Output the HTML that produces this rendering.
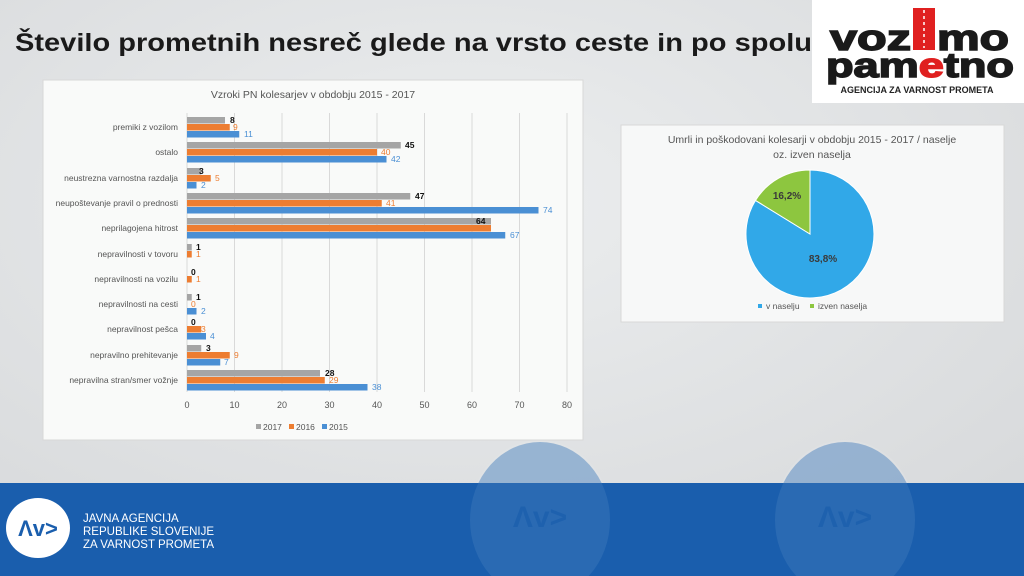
<!DOCTYPE html>
<html><head><meta charset="utf-8"><style>
html,body{margin:0;padding:0;width:1024px;height:576px;overflow:hidden;background:#e2e3e4}
svg{display:block}
text{font-family:"Liberation Sans","DejaVu Sans",sans-serif}
</style></head><body>
<svg width="1024" height="576" viewBox="0 0 1024 576" xmlns="http://www.w3.org/2000/svg">
<defs>
<radialGradient id="bg" cx="0.45" cy="0.35" r="0.8">
<stop offset="0" stop-color="#eceeef"/><stop offset="1" stop-color="#d6d8da"/></radialGradient>
</defs>
<rect width="1024" height="576" fill="url(#bg)"/>
<ellipse cx="540" cy="515" rx="70" ry="75" fill="#e6e8ea" opacity="0.3"/>
<ellipse cx="845" cy="515" rx="70" ry="75" fill="#e6e8ea" opacity="0.3"/>
<!-- footer -->
<rect x="0" y="483" width="1024" height="93" fill="#1a5ead"/>
<ellipse cx="540" cy="520" rx="70" ry="78" fill="#3f7abb" opacity="0.45"/>
<ellipse cx="845" cy="520" rx="70" ry="78" fill="#3f7abb" opacity="0.45"/>
<rect x="0" y="483" width="1024" height="0" fill="#1a5ead"/>
<text x="540" y="527" font-size="30" font-weight="bold" fill="#1a5ead" text-anchor="middle" opacity="0.7">Λv&gt;</text>
<text x="845" y="527" font-size="30" font-weight="bold" fill="#1a5ead" text-anchor="middle" opacity="0.7">Λv&gt;</text>
<ellipse cx="38" cy="528" rx="32" ry="30" fill="#ffffff"/>
<text x="38" y="536" font-size="22" font-weight="bold" fill="#1a5ead" text-anchor="middle">Λv&gt;</text>
<text x="83" y="522" font-size="11.5" fill="#fff">JAVNA AGENCIJA</text>
<text x="83" y="535" font-size="11.5" fill="#fff">REPUBLIKE SLOVENIJE</text>
<text x="83" y="548" font-size="11.5" fill="#fff">ZA VARNOST PROMETA</text>
<!-- title -->
<text x="15" y="51" font-size="25" font-weight="bold" fill="#1a1a1a" textLength="797" lengthAdjust="spacingAndGlyphs">Število prometnih nesreč glede na vrsto ceste in po spolu</text>
<!-- logo -->
<rect x="812" y="0" width="212" height="103" fill="#ffffff"/>
<rect x="913" y="8" width="22" height="42" fill="#e02020"/>
<line x1="924" y1="10" x2="924" y2="48" stroke="#fff" stroke-width="1.5" stroke-dasharray="3,3"/>
<text x="830" y="50" font-size="36" font-weight="bold" fill="#1a1a1a" textLength="81" lengthAdjust="spacingAndGlyphs" stroke="#1a1a1a" stroke-width="1.5">voz</text>
<text x="937" y="50" font-size="36" font-weight="bold" fill="#1a1a1a" textLength="72" lengthAdjust="spacingAndGlyphs" stroke="#1a1a1a" stroke-width="1.5">mo</text>
<text x="826" y="77" font-size="34" font-weight="bold" fill="#1a1a1a" textLength="188" lengthAdjust="spacingAndGlyphs" stroke="#1a1a1a" stroke-width="1.5">pam<tspan fill="#e02020" stroke="#e02020">e</tspan>tno</text>
<text x="917" y="93" font-size="9" font-weight="bold" fill="#222" text-anchor="middle">AGENCIJA ZA VARNOST PROMETA</text>
<!-- bar chart panel -->
<rect x="43" y="80" width="540" height="360" fill="#f9faf9" stroke="#d8d8d8"/>
<text x="313" y="98" font-size="10.5" fill="#555" text-anchor="middle">Vzroki PN kolesarjev v obdobju 2015 - 2017</text>
<g stroke="#d9d9d9" stroke-width="1">
<line x1="187" y1="113" x2="187" y2="392"/><line x1="234.5" y1="113" x2="234.5" y2="392"/><line x1="282" y1="113" x2="282" y2="392"/><line x1="329.5" y1="113" x2="329.5" y2="392"/><line x1="377" y1="113" x2="377" y2="392"/><line x1="424.5" y1="113" x2="424.5" y2="392"/><line x1="472" y1="113" x2="472" y2="392"/><line x1="519.5" y1="113" x2="519.5" y2="392"/><line x1="567" y1="113" x2="567" y2="392"/>
</g>
<g font-size="9" fill="#555" text-anchor="middle">
<text x="187" y="408">0</text><text x="234.5" y="408">10</text><text x="282" y="408">20</text><text x="329.5" y="408">30</text><text x="377" y="408">40</text><text x="424.5" y="408">50</text><text x="472" y="408">60</text><text x="519.5" y="408">70</text><text x="567" y="408">80</text>
</g>
<g font-size="8.5" fill="#555" text-anchor="end">
<text x="178" y="130">premiki z vozilom</text>
<text x="178" y="155">ostalo</text>
<text x="178" y="181">neustrezna varnostna razdalja</text>
<text x="178" y="206">neupoštevanje pravil o prednosti</text>
<text x="178" y="231">neprilagojena hitrost</text>
<text x="178" y="257">nepravilnosti v tovoru</text>
<text x="178" y="282">nepravilnosti na vozilu</text>
<text x="178" y="307">nepravilnosti na cesti</text>
<text x="178" y="332">nepravilnost pešca</text>
<text x="178" y="358">nepravilno prehitevanje</text>
<text x="178" y="383">nepravilna stran/smer vožnje</text>
</g>
<g>
<g fill="#a5a5a5">
<rect x="187" y="117" width="38" height="6.5"/><rect x="187" y="142" width="213.75" height="6.5"/><rect x="187" y="168" width="14.25" height="6.5"/><rect x="187" y="193" width="223.25" height="6.5"/><rect x="187" y="218" width="304" height="6.5"/><rect x="187" y="244" width="4.75" height="6.5"/><rect x="187" y="294" width="4.75" height="6.5"/><rect x="187" y="345" width="14.25" height="6.5"/><rect x="187" y="370" width="133" height="6.5"/>
</g>
<g fill="#ed7d31">
<rect x="187" y="124" width="42.75" height="6.5"/><rect x="187" y="149" width="190" height="6.5"/><rect x="187" y="175" width="23.75" height="6.5"/><rect x="187" y="200" width="194.75" height="6.5"/><rect x="187" y="225" width="304" height="6.5"/><rect x="187" y="251" width="4.75" height="6.5"/><rect x="187" y="276" width="4.75" height="6.5"/><rect x="187" y="326" width="14.25" height="6.5"/><rect x="187" y="352" width="42.75" height="6.5"/><rect x="187" y="377" width="137.75" height="6.5"/>
</g>
<g fill="#4a8fd4">
<rect x="187" y="131" width="52.25" height="6.5"/><rect x="187" y="156" width="199.5" height="6.5"/><rect x="187" y="182" width="9.5" height="6.5"/><rect x="187" y="207" width="351.5" height="6.5"/><rect x="187" y="232" width="318.25" height="6.5"/><rect x="187" y="308" width="9.5" height="6.5"/><rect x="187" y="333" width="19" height="6.5"/><rect x="187" y="359" width="33.25" height="6.5"/><rect x="187" y="384" width="180.5" height="6.5"/>
</g>
<g font-size="8.5" font-weight="bold" fill="#111">
<text x="230" y="123">8</text><text x="405" y="148">45</text><text x="199" y="174">3</text><text x="415" y="199">47</text><text x="476" y="224">64</text><text x="196" y="250">1</text><text x="191" y="275">0</text><text x="196" y="300">1</text><text x="191" y="325">0</text><text x="206" y="351">3</text><text x="325" y="376">28</text>
</g>
<g font-size="8.5" fill="#ed7d31">
<text x="233" y="130">9</text><text x="381" y="155">40</text><text x="215" y="181">5</text><text x="386" y="206">41</text><text x="476" y="231">64</text><text x="196" y="257">1</text><text x="196" y="282">1</text><text x="191" y="307">0</text><text x="201" y="332">3</text><text x="234" y="358">9</text><text x="329" y="383">29</text>
</g>
<g font-size="8.5" fill="#4a8fd4">
<text x="244" y="137">11</text><text x="391" y="162">42</text><text x="201" y="188">2</text><text x="543" y="213">74</text><text x="510" y="238">67</text><text x="201" y="314">2</text><text x="210" y="339">4</text><text x="224" y="365">7</text><text x="372" y="390">38</text>
</g>
</g>
<g font-size="8.5" fill="#555">
<rect x="256" y="424" width="5" height="5" fill="#a5a5a5"/><text x="263" y="430">2017</text>
<rect x="289" y="424" width="5" height="5" fill="#ed7d31"/><text x="296" y="430">2016</text>
<rect x="322" y="424" width="5" height="5" fill="#4a8fd4"/><text x="329" y="430">2015</text>
</g>
<!-- pie panel -->
<rect x="621" y="125" width="383" height="197" fill="#f7f8f8" stroke="#d8d8d8"/>
<text x="812" y="143" font-size="10.5" fill="#555" text-anchor="middle">Umrli in poškodovani kolesarji v obdobju 2015 - 2017 / naselje</text>
<text x="812" y="158" font-size="10.5" fill="#555" text-anchor="middle">oz. izven naselja</text>
<path d="M810,234 L810,170 A64,64 0 1 1 755.5,200.4 Z" fill="#31a8e8" stroke="#fff" stroke-width="1"/>
<path d="M810,234 L755.5,200.4 A64,64 0 0 1 810,170 Z" fill="#8dc63f" stroke="#fff" stroke-width="1"/>
<text x="787" y="199" font-size="10" font-weight="bold" fill="#3a3a3a" text-anchor="middle">16,2%</text>
<text x="823" y="262" font-size="10" font-weight="bold" fill="#3a3a3a" text-anchor="middle">83,8%</text>
<g font-size="8.5" fill="#555">
<rect x="758" y="304" width="4" height="4" fill="#31a8e8"/><text x="766" y="309">v naselju</text>
<rect x="810" y="304" width="4" height="4" fill="#8dc63f"/><text x="818" y="309">izven naselja</text>
</g>
</svg>
</body></html>
